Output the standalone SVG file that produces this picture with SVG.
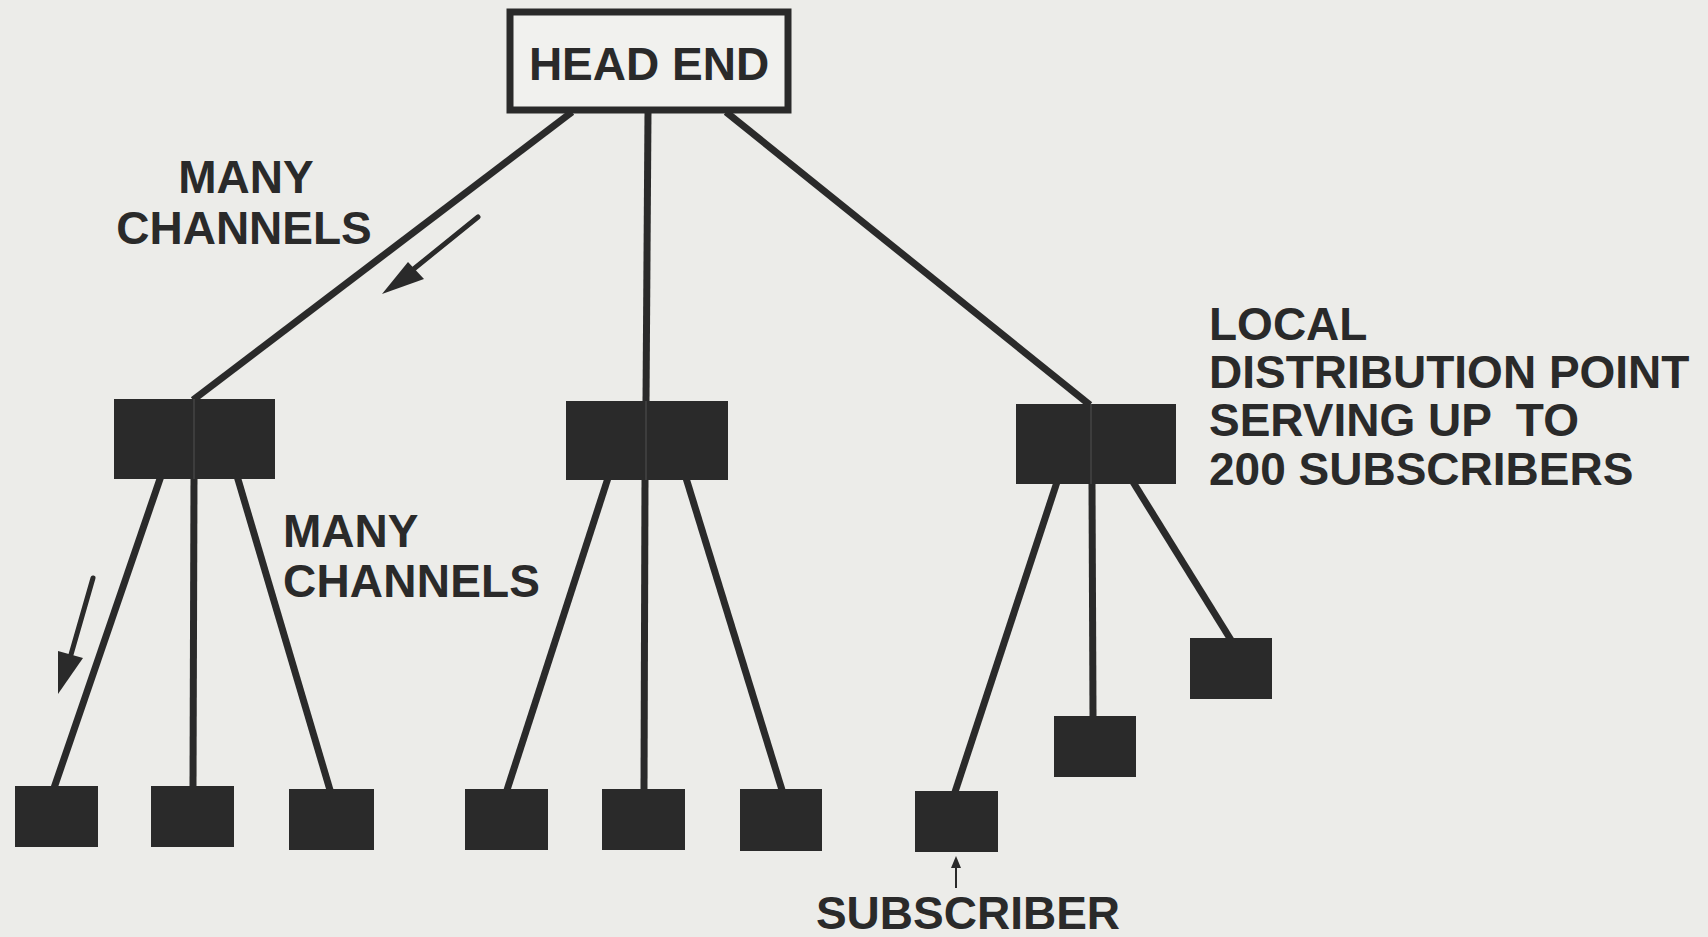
<svg xmlns="http://www.w3.org/2000/svg" width="1708" height="937" viewBox="0 0 1708 937">
<defs>
<style>
.bg{fill:#ecece9}
.ink{fill:#2a2a2a}
.wire{stroke:#2a2a2a;stroke-width:7;fill:none;stroke-linecap:butt}
.thru{stroke:#3d3d3d;stroke-width:2}
.flow{stroke:#2a2a2a;stroke-width:5;fill:none;stroke-linecap:round}
.lbl{font-family:"Liberation Sans",Arial,Helvetica,sans-serif;font-weight:bold;font-size:46px;fill:#2a2a2a}
</style>
</defs>
<rect class="bg" x="0" y="0" width="1708" height="937"/>

<g id="connectors">
  <line class="wire" x1="572" y1="112" x2="193" y2="400"/>
  <line class="wire" x1="648" y1="112" x2="646" y2="402"/>
  <line class="wire" x1="726" y1="112" x2="1090" y2="405"/>

  <line class="wire" x1="161" y1="476" x2="54" y2="788"/>
  <line class="wire" x1="194" y1="476" x2="193" y2="788"/>
  <line class="wire" x1="237" y1="476" x2="330" y2="790"/>

  <line class="wire" x1="608" y1="478" x2="507" y2="790"/>
  <line class="wire" x1="645" y1="478" x2="644" y2="790"/>
  <line class="wire" x1="686" y1="478" x2="782" y2="790"/>

  <line class="wire" x1="1057" y1="482" x2="955" y2="792"/>
  <line class="wire" x1="1092" y1="482" x2="1093" y2="717"/>
  <line class="wire" x1="1133" y1="482" x2="1231" y2="640"/>

  <!-- flow arrows -->
  <line class="flow" x1="478" y1="217" x2="405" y2="276"/>
  <polygon class="ink" points="382,294 408,262 424,279"/>
  <line class="flow" x1="93" y1="578" x2="70" y2="658"/>
  <polygon class="ink" points="58,694 58,651 83,658"/>
  <line stroke="#2a2a2a" stroke-width="2" x1="956" y1="888" x2="956" y2="866"/>
  <polygon class="ink" points="956,856 951,868 961,868"/>
</g>

<g id="head-end">
  <rect x="510" y="12" width="278" height="98" fill="#f1f1ee" stroke="#2a2a2a" stroke-width="7"/>
  <text class="lbl" x="649" y="80" text-anchor="middle">HEAD END</text>
</g>

<g id="dist-left">
  <rect class="ink" x="114" y="399" width="161" height="80"/>
  <line class="thru" x1="194" y1="399" x2="194" y2="479"/>
</g>
<g id="dist-center">
  <rect class="ink" x="566" y="401" width="162" height="79"/>
  <line class="thru" x1="646" y1="401" x2="646" y2="480"/>
</g>
<g id="dist-right">
  <rect class="ink" x="1016" y="404" width="160" height="80"/>
  <line class="thru" x1="1091" y1="404" x2="1091" y2="484"/>
</g>

<g id="sub-1"><rect class="ink" x="15" y="786" width="83" height="61"/></g>
<g id="sub-2"><rect class="ink" x="151" y="786" width="83" height="61"/></g>
<g id="sub-3"><rect class="ink" x="289" y="789" width="85" height="61"/></g>
<g id="sub-4"><rect class="ink" x="465" y="789" width="83" height="61"/></g>
<g id="sub-5"><rect class="ink" x="602" y="789" width="83" height="61"/></g>
<g id="sub-6"><rect class="ink" x="740" y="789" width="82" height="62"/></g>
<g id="sub-7"><rect class="ink" x="915" y="791" width="83" height="61"/></g>
<g id="sub-8"><rect class="ink" x="1054" y="716" width="82" height="61"/></g>
<g id="sub-9"><rect class="ink" x="1190" y="638" width="82" height="61"/></g>

<g id="labels">
  <text class="lbl" x="246" y="193" text-anchor="middle">MANY</text>
  <text class="lbl" x="244" y="244" text-anchor="middle">CHANNELS</text>
  <text class="lbl" x="283" y="547" font-size="45">MANY</text>
  <text class="lbl" x="283" y="597" font-size="45" textLength="257">CHANNELS</text>
  <text class="lbl" x="1209" y="340">LOCAL</text>
  <text class="lbl" x="1209" y="388">DISTRIBUTION POINT</text>
  <text class="lbl" x="1209" y="436">SERVING UP <tspan dx="12">TO</tspan></text>
  <text class="lbl" x="1209" y="485">200 SUBSCRIBERS</text>
  <text class="lbl" x="968" y="929" text-anchor="middle">SUBSCRIBER</text>
</g>
</svg>
